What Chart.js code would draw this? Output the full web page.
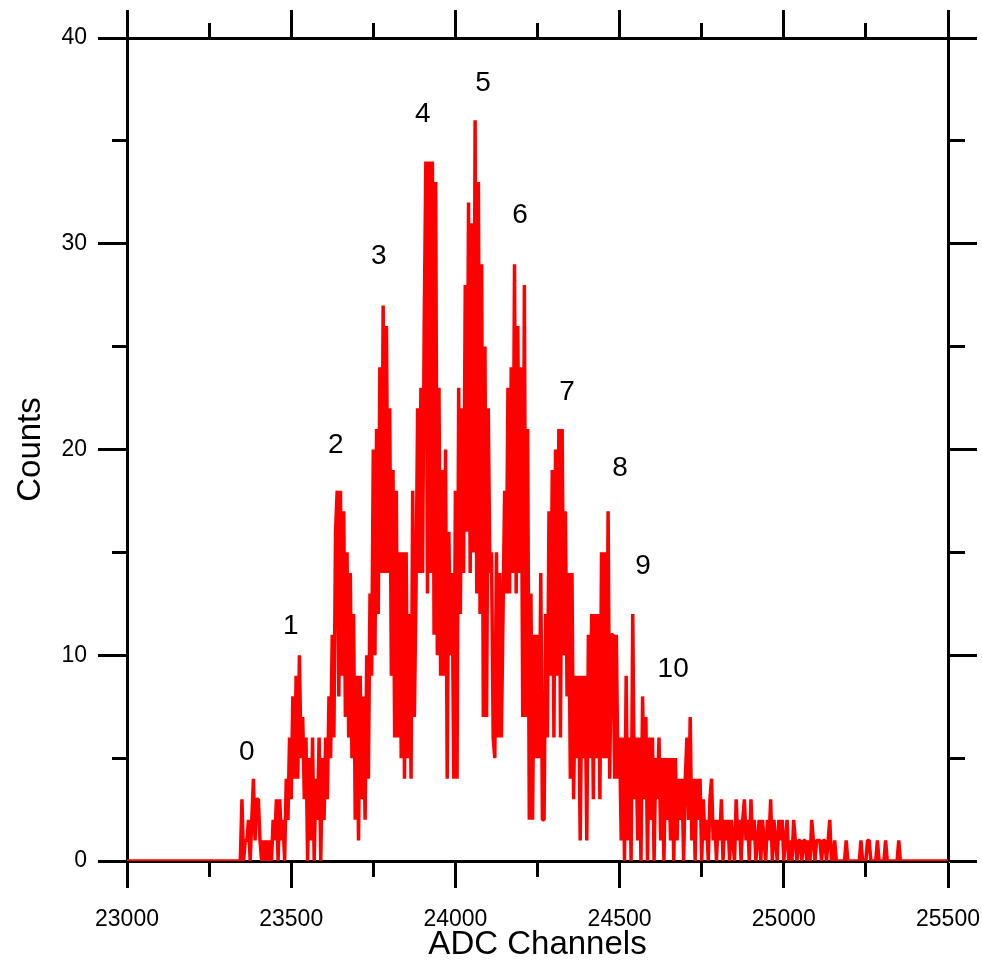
<!DOCTYPE html>
<html>
<head>
<meta charset="utf-8">
<script src="https://cdn.jsdelivr.net/npm/chart.js@4.4.1/dist/chart.umd.min.js"></script>
<style>
    html, body { margin: 0; padding: 0; background: #fff; }
    canvas { display: block; }
</style>
</head>
<body>
<canvas id="chart" width="982" height="961"></canvas>
<script>
// ADC spectrum, one count value every 5 channels starting at 23340
const firstChannel = 23340;
const channelStep = 5;
const counts = [
    0, 0, 3, 0, 1, 1,   2, 0, 2, 4, 1, 3,   3, 1, 0, 1, 0, 1,   0, 1, 0, 2, 1, 3,
    0, 3, 1, 2, 0, 4,   2, 6, 3, 8, 4, 9,   4, 10, 5, 7, 3, 6,  0, 5, 1, 6, 0, 4,
    2, 6, 0, 5, 2, 6,   3, 8, 5, 11, 6, 16, 18, 8, 18, 9, 17, 7, 15, 6, 14, 5, 12, 2,
    9, 1, 9, 3, 8, 2,   10, 4, 13, 9, 20, 10, 21, 12, 24, 14, 27, 14, 26, 14, 22, 9, 19, 6,
    18, 6, 15, 5, 15, 4, 15, 5, 12, 4, 18, 7, 13, 22, 14, 23, 14, 26, 34, 13, 34, 14, 34, 11,
    33, 10, 23, 9, 19, 9, 20, 4, 16, 10, 14, 4, 18, 4, 23, 12, 22, 14, 28, 16, 32, 14, 31, 15,
    36, 13, 33, 12, 29, 7, 25, 7, 22, 14, 15, 6, 5, 15, 6, 14, 6, 12, 18, 13, 23, 13, 24, 14,
    29, 13, 26, 14, 24, 7, 28, 7, 21, 2, 13, 2, 11, 5, 11, 5, 14, 2, 2, 12, 6, 17, 9, 19,
    6, 20, 9, 21, 6, 21, 10, 17, 8, 14, 4, 14, 3, 9, 5, 9, 1, 9, 5, 9, 1, 11, 5, 12,
    3, 12, 5, 12, 3, 15, 5, 15, 5, 17, 4, 11, 11, 4, 11, 4, 6, 1, 6, 0, 9, 1, 6, 0,
    12, 3, 6, 1, 6, 0,  8, 3, 7, 0, 6, 2,   6, 0, 5, 3, 6, 1,   5, 0, 5, 2, 5, 1,
    5, 0, 5, 1, 4, 2,   4, 0, 4, 6, 2, 7,   1, 4, 0, 4, 2, 4,   0, 3, 1, 2, 0, 3,
    4, 1, 2, 0, 2, 1,   3, 0, 2, 1, 2, 0,   2, 1, 0, 3, 1, 2,   0, 2, 3, 1, 2, 0,
    3, 1, 2, 0, 1, 2,   0, 2, 1, 0, 2, 1,   3, 0, 2, 1, 0, 2,   1, 2, 0, 1, 2, 0,
    1, 0, 2, 1, 0, 1,   1, 0, 1, 1, 0, 1,   0, 2, 1, 0, 1, 1,   1, 0, 1, 1, 0, 1,
    2, 0, 0, 1, 0, 0,   0, 0, 0, 0, 1, 0,   0, 0, 0, 0, 0, 0,   0, 1, 0, 0, 0, 1,
    1, 0, 0, 0, 0, 1,   0, 0, 0, 0, 1, 0,   0, 0, 0, 0, 0, 0,   1, 0, 0
];
// channels at both ends of the range with no counts
const emptyChannels = [23000, 25500];

// peak numbers written above the peaks
const peakNames = ['0', '1', '2', '3', '4', '5', '6', '7', '8', '9', '10'];
const peakChannels = [23365, 23499, 23636, 23767, 23901, 24084, 24197, 24340, 24501, 24571, 24663];
const peakCounts = [5.3, 11.4, 20.2, 29.4, 36.3, 37.8, 31.4, 22.8, 19.1, 14.3, 9.3];

const xRange = [23000, 25500];
const yRange = [0, 40];
const xMajor = 500, xMinor = 250;
const yMajor = 10, yMinor = 5;

const FONT = "'Liberation Sans', Arial, Helvetica, sans-serif";
Chart.defaults.color = '#000';
Chart.defaults.font.family = FONT;

const points = [{ x: emptyChannels[0], y: 0 }];
counts.forEach((c, i) => points.push({ x: firstChannel + i * channelStep, y: c }));
points.push({ x: emptyChannels[1], y: 0 });

const isMajor = (v, step) => Math.abs(v / step - Math.round(v / step)) < 1e-6;

// minor ticks: short dash; outward ticks drawn from axis (bottom/right) or towards it (top/left)
const dashFromAxis = (step, len) => (ctx) => isMajor(ctx.tick.value, step) ? [] : [len, 200];
const dashToAxis = (step, full, len) => (ctx) => isMajor(ctx.tick.value, step) ? [] : [0, full - len, len, 200];

// keep the plot box fixed, no room reserved for overflowing end labels
const fixSize = (w, h) => (s) => {
    if (w != null) s.width = w;
    if (h != null) s.height = h;
    s.paddingLeft = 0; s.paddingRight = 0; s.paddingTop = 0; s.paddingBottom = 0;
};

const peakLabels = {
    id: 'peakLabels',
    afterDatasetsDraw(chart) {
        const { ctx, scales } = chart;
        ctx.save();
        ctx.fillStyle = '#000';
        ctx.font = `28px ${FONT}`;
        ctx.textAlign = 'center';
        ctx.textBaseline = 'middle';
        peakNames.forEach((name, i) => {
            ctx.fillText(name, scales.x.getPixelForValue(peakChannels[i]), scales.y.getPixelForValue(peakCounts[i]));
        });
        ctx.restore();
    }
};

const axisBorder = { display: true, color: '#000', width: 3 };

new Chart(document.getElementById('chart'), {
    type: 'line',
    data: {
        datasets: [{
            data: points,
            borderColor: '#ff0000',
            borderWidth: 3.5,
            borderJoinStyle: 'bevel',
            borderCapStyle: 'butt',
            pointRadius: 0,
            tension: 0,
            fill: false
        }]
    },
    options: {
        responsive: false,
        animation: false,
        devicePixelRatio: 1,
        layout: { padding: 0 },
        plugins: { legend: { display: false }, tooltip: { enabled: false } },
        scales: {
            x: {
                type: 'linear', position: 'bottom', min: xRange[0], max: xRange[1],
                border: axisBorder,
                grid: {
                    drawOnChartArea: false, drawTicks: true, tickLength: 27, tickWidth: 3, tickColor: '#000',
                    tickBorderDash: dashFromAxis(xMajor, 14)
                },
                ticks: {
                    stepSize: xMinor, autoSkip: false, maxRotation: 0, padding: 18,
                    font: { size: 23 },
                    callback: (v) => isMajor(v, xMajor) ? String(v) : ''
                },
                title: {
                    display: true, text: 'ADC Channels',
                    font: { size: 33, lineHeight: 1 }, padding: { top: 0, bottom: 0 }
                },
                afterFit: fixSize(null, 100)
            },
            x2: {
                type: 'linear', position: 'top', min: xRange[0], max: xRange[1],
                border: axisBorder,
                grid: {
                    drawOnChartArea: false, drawTicks: true, tickLength: 28, tickWidth: 3, tickColor: '#000',
                    tickBorderDash: dashToAxis(xMajor, 28, 15)
                },
                ticks: { stepSize: xMinor, autoSkip: false, display: false },
                afterFit: fixSize(null, 38)
            },
            y: {
                type: 'linear', position: 'left', min: yRange[0], max: yRange[1],
                border: axisBorder,
                grid: {
                    drawOnChartArea: false, drawTicks: true, tickLength: 29, tickWidth: 3, tickColor: '#000',
                    tickBorderDash: dashToAxis(yMajor, 29, 15)
                },
                ticks: {
                    stepSize: yMinor, autoSkip: false, padding: 11,
                    font: { size: 23 },
                    callback: (v) => isMajor(v, yMajor) ? String(v) : ''
                },
                title: {
                    display: true, text: 'Counts',
                    font: { size: 33, lineHeight: 1 }, padding: { top: 14, bottom: 0 }
                },
                afterFit: fixSize(127, null)
            },
            y2: {
                type: 'linear', position: 'right', min: yRange[0], max: yRange[1],
                border: axisBorder,
                grid: {
                    drawOnChartArea: false, drawTicks: true, tickLength: 29, tickWidth: 3, tickColor: '#000',
                    tickBorderDash: dashFromAxis(yMajor, 15)
                },
                ticks: { stepSize: yMinor, autoSkip: false, display: false },
                afterFit: fixSize(34, null)
            }
        }
    },
    plugins: [peakLabels]
});
</script>
</body>
</html>
